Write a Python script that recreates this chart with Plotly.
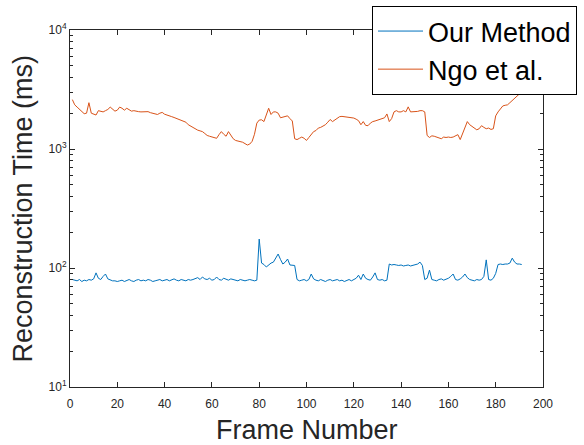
import plotly.graph_objects as go

# Reconstruction time per frame (ms)
frames = list(range(1, 192))

ours_ms = [
    80, 79, 78, 80, 77, 79, 78, 80, 79, 81,
    91, 82, 80, 85, 89, 81, 79, 78, 78, 77,
    78, 79, 77, 79, 80, 78, 77, 79, 80, 78,
    79, 78, 80, 79, 77, 78, 79, 80, 78, 79,
    80, 78, 79, 81, 79, 78, 80, 79, 78, 80,
    79, 80, 81, 83, 80, 84, 81, 80, 82, 79,
    80, 84, 80, 79, 82, 80, 79, 81, 80, 79,
    78, 80, 79, 78, 79, 80, 79, 78, 79, 175,
    110, 107, 102, 106, 110, 112, 122, 131, 118, 108,
    112, 119, 106, 106, 105, 80, 78, 79, 80, 78,
    80, 89, 81, 79, 78, 80, 79, 77, 79, 80,
    78, 79, 80, 78, 79, 77, 79, 80, 78, 80,
    82, 87, 80, 89, 82, 80, 79, 84, 91, 80,
    79, 80, 78, 79, 108, 106, 107, 106, 105, 106,
    104, 105, 106, 104, 105, 106, 108, 112, 105, 80,
    82, 96, 80, 79, 78, 80, 81, 79, 80, 82,
    85, 89, 80, 79, 81, 84, 89, 83, 80, 79,
    78, 80, 79, 80, 85, 117, 80, 79, 82, 90,
    107, 108, 107, 108, 108, 110, 121, 112, 108, 108,
    107,
]

ngo_ms = [
    2600, 2350, 2250, 2150, 2050, 1980, 2000, 2450, 2000, 1950,
    1930, 2100, 2080, 2050, 2100, 2150, 2250, 2150, 2080, 2120,
    2250, 2200, 2120, 2200, 2150, 2080, 2100, 2070, 2060, 2050,
    2060, 2040, 2060, 2020, 2000, 1980, 1950, 2000, 2030, 1960,
    1920, 1900, 1870, 1840, 1810, 1780, 1740, 1700, 1680, 1600,
    1560, 1500, 1460, 1440, 1420, 1400, 1350, 1300, 1280, 1260,
    1250, 1230, 1320, 1400, 1330, 1280, 1400, 1290, 1220, 1180,
    1170, 1150, 1140, 1110, 1080, 1100, 1160, 1330, 1650, 1750,
    1760, 1700, 1900, 2200, 1950, 2050, 2050, 2000, 1830, 1850,
    1870, 1900, 1800, 1720, 1220, 1200, 1230, 1260, 1230, 1180,
    1250, 1330, 1400, 1430, 1500, 1520, 1560, 1600, 1680, 1770,
    1700, 1750, 1820, 1870, 1880, 1870, 1860, 1850, 1840, 1820,
    1780, 1730, 1600, 1700, 1580, 1570, 1650, 1700, 1720, 1750,
    1770, 1800, 1830, 1970, 1700, 1800, 2050, 2100, 2050, 2050,
    2100, 2050, 2260, 2050, 2050, 2050, 2070, 2100, 2100, 2050,
    1300, 1250, 1290, 1280, 1260, 1240, 1220, 1260, 1250, 1260,
    1250, 1260, 1290, 1320, 1200, 1350, 1500, 1700, 1600, 1540,
    1500, 1450, 1480, 1570, 1520, 1480, 1500, 1460, 1480, 1900,
    2050, 2200, 2300, 2330, 2350, 2450, 2550, 2700, 2800, 2900,
    2900,
]

x_ticks = [0, 20, 40, 60, 80, 100, 120, 140, 160, 180, 200]
y_ticks = [10, 100, 1000, 10000]
y_tick_text = ["10<sup>1</sup>", "10<sup>2</sup>", "10<sup>3</sup>", "10<sup>4</sup>"]

AXIS_COLOR = "#262626"
FONT = "Liberation Sans, Arial, sans-serif"

fig = go.Figure()
fig.add_trace(go.Scatter(x=frames, y=ours_ms, mode="lines", name="Our Method",
                         line=dict(color="#0072BD", width=1)))
fig.add_trace(go.Scatter(x=frames, y=ngo_ms, mode="lines", name="Ngo et al.",
                         line=dict(color="#D95319", width=1)))

fig.update_layout(
    width=584, height=445,
    margin=dict(l=70, r=41, t=30, b=58, autoexpand=False),
    paper_bgcolor="white", plot_bgcolor="white",
    font=dict(family=FONT, color=AXIS_COLOR),
    showlegend=True,
    legend=dict(
        xref="container", yref="container",
        x=372 / 584, y=1 - 6 / 445, xanchor="left", yanchor="top",
        bgcolor="white", bordercolor="black", borderwidth=1,
        font=dict(size=27, family=FONT, color="black"),
        itemwidth=45, tracegroupgap=0,
    ),
    xaxis=dict(
        range=[0, 200], tickvals=x_ticks, ticktext=[str(v) for v in x_ticks],
        showgrid=False, zeroline=False,
        showline=True, linecolor=AXIS_COLOR, linewidth=1, mirror="ticks",
        ticks="inside", ticklen=5, tickcolor=AXIS_COLOR,
        tickfont=dict(size=12, color=AXIS_COLOR), ticklabelstandoff=6,
    ),
    yaxis=dict(
        type="log", range=[1, 4], tickvals=y_ticks, ticktext=y_tick_text,
        showgrid=False, zeroline=False,
        showline=True, linecolor=AXIS_COLOR, linewidth=1, mirror="ticks",
        ticks="inside", ticklen=5, tickcolor=AXIS_COLOR,
        tickfont=dict(size=12, color=AXIS_COLOR),
        minor=dict(ticks="inside", ticklen=3, tickcolor=AXIS_COLOR, dtick="D1", showgrid=False),
    ),
    annotations=[
        dict(text="Reconstruction Time (ms)", xref="paper", yref="paper",
             x=(22 - 70) / 473, y=0.5, textangle=-90, showarrow=False,
             xanchor="center", yanchor="middle",
             font=dict(size=27, family=FONT, color=AXIS_COLOR)),
        dict(text="Frame Number", xref="paper", yref="paper",
             x=0.5, y=(387 - 430) / 357, showarrow=False,
             xanchor="center", yanchor="middle",
             font=dict(size=27, family=FONT, color=AXIS_COLOR)),
    ],
)

fig.write_html("out.html")
